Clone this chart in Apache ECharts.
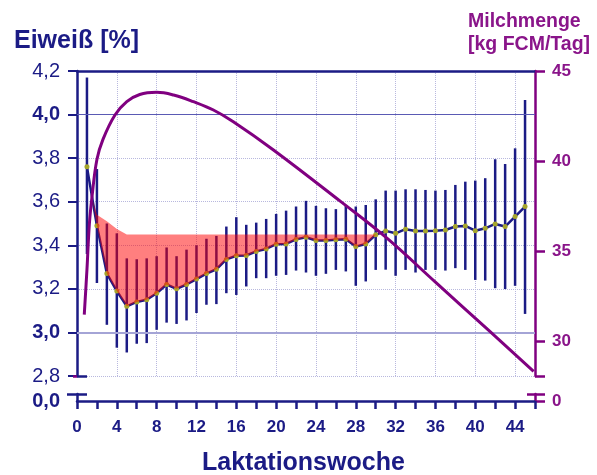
<!DOCTYPE html>
<html>
<head>
<meta charset="utf-8">
<script src="https://cdn.jsdelivr.net/npm/echarts/dist/echarts.min.js"></script>
<style>html,body{margin:0;padding:0;background:#fff;}#c{width:597px;height:475px;}</style>
</head>
<body>
<div id="c"></div>
<script>
// ---- data ----
const weeks = [1,2,3,4,5,6,7,8,9,10,11,12,13,14,15,16,17,18,19,20,21,22,23,24,25,26,27,28,29,30,31,32,33,34,35,36,37,38,39,40,41,42,43,44,45];
const protein = [3.76,3.49,3.27,3.19,3.12,3.14,3.15,3.18,3.22,3.20,3.22,3.245,3.27,3.29,3.335,3.352,3.353,3.372,3.383,3.405,3.406,3.427,3.437,3.422,3.422,3.425,3.428,3.394,3.406,3.448,3.466,3.455,3.474,3.466,3.466,3.467,3.47,3.486,3.489,3.467,3.478,3.498,3.486,3.532,3.578];
const proteinHigh = [4.17,3.75,3.50,3.455,3.34,3.336,3.34,3.35,3.39,3.35,3.38,3.40,3.43,3.443,3.486,3.529,3.494,3.504,3.521,3.544,3.559,3.578,3.604,3.581,3.57,3.566,3.585,3.578,3.585,3.611,3.651,3.651,3.657,3.657,3.654,3.651,3.654,3.677,3.692,3.697,3.708,3.795,3.773,3.845,4.067];
const proteinLow = [3.36,3.227,3.035,2.93,2.908,2.948,2.951,3.012,3.045,3.039,3.055,3.089,3.127,3.13,3.18,3.172,3.211,3.249,3.249,3.26,3.264,3.284,3.275,3.26,3.269,3.287,3.28,3.214,3.234,3.287,3.288,3.26,3.287,3.275,3.287,3.287,3.284,3.295,3.287,3.241,3.238,3.203,3.199,3.214,3.085];
const refProtein = [3.70,3.54,3.51,3.475,3.45,3.45,3.45,3.45,3.45,3.45,3.45,3.45,3.45,3.45,3.45,3.45,3.45,3.45,3.45,3.45,3.45,3.45,3.45,3.45,3.45,3.45,3.45,3.45,3.45,3.45,3.45,3.45,3.45,3.45,3.45,3.45,3.45,3.45,3.45,3.45,3.45,3.45,3.45,3.45,3.45];
const milkWeeks = [0.73,1.0,1.24,1.5,2.0,2.6,3.8,5.0,6.3,8.0,9.7,11.7,13.7,15.7,19.7,26.5,31.1,36,41.3,45.86];
const milkYield = [31.5,34.0,36.5,38.0,40.1,41.2,42.55,43.3,43.7,43.82,43.67,43.3,42.84,42.19,40.64,37.76,35.75,33.3,30.65,28.36];
const xTickValues = [0,2,4,6,8,10,12,14,16,18,20,22,24,26,28,30,32,34,36,38,40,42,44,46];
const xLabelValues = [0,4,8,12,16,20,24,28,32,36,40,44];
const rightLabelValues = [30,35,40,45];

const NAVY = '#1b1b85';
const PURPLE_T = '#8a158a';
const PURPLE = '#800080';
const GRIDC = '#b8b8de';
const FONT = 'Liberation Sans, Arial, sans-serif';

function redRuns(){
  const runs=[]; let cur=null;
  for(let i=0;i<weeks.length;i++){
    const d=refProtein[i]-protein[i];
    if(i>0){
      const dp=refProtein[i-1]-protein[i-1];
      if((dp>0)!==(d>0)){
        const t=dp/(dp-d);
        const w=weeks[i-1]+t*(weeks[i]-weeks[i-1]);
        const v=protein[i-1]+t*(protein[i]-protein[i-1]);
        if(cur){cur.lo.push([w,v]);cur.hi.push([w,v]);runs.push(cur);cur=null;}
        else{cur={lo:[[w,v]],hi:[[w,v]]};}
      }
    }
    if(d>0){ if(!cur) cur={lo:[],hi:[]}; cur.lo.push([weeks[i],protein[i]]); cur.hi.push([weeks[i],refProtein[i]]); }
  }
  if(cur) runs.push(cur);
  return runs;
}

const chart = echarts.init(document.getElementById('c'), null, {renderer:'canvas'});
const leftFmt = v => { const s=(Math.round(v*10)/10).toFixed(1).replace('.',','); return (Math.abs(v-4)<1e-6||Math.abs(v-3)<1e-6)?'{b|'+s+'}':s; };

chart.setOption({
  animation:false,
  textStyle:{fontFamily:FONT},
  title:[
    {text:'Eiweiß [%]', left:14, top:29, padding:0, textStyle:{fontFamily:FONT,fontSize:25,fontWeight:'bold',color:NAVY}},
    {text:'Milchmenge\n[kg FCM/Tag]', left:468, top:10, padding:0, textStyle:{fontFamily:FONT,fontSize:19.5,fontWeight:'bold',color:PURPLE_T,lineHeight:23}},
    {text:'Laktationswoche', left:202, top:451, padding:0, textStyle:{fontFamily:FONT,fontSize:25,fontWeight:'bold',color:NAVY}}
  ],
  grid:[
    {left:77, right:62, top:71, height:305},
    {left:77, right:62, top:394, height:7}
  ],
  xAxis:[
    {gridIndex:0, type:'value', min:0, max:46, interval:4, axisLine:{show:false}, axisTick:{show:false}, axisLabel:{show:false},
     splitLine:{show:true, lineStyle:{color:GRIDC, type:'dotted', width:1}}},
    {gridIndex:1, type:'value', min:0, max:46, position:'bottom',
     axisLine:{show:true, onZero:false, lineStyle:{color:NAVY, width:2.5}},
     axisTick:{show:true, customValues:xTickValues, length:8, lineStyle:{color:NAVY, width:2.5}},
     axisLabel:{show:true, customValues:xLabelValues, margin:18, fontFamily:FONT, fontSize:17, fontWeight:'bold', color:NAVY},
     splitLine:{show:false}},
    {gridIndex:0, type:'value', min:0, max:46, position:'top',
     axisLine:{show:true, onZero:false, lineStyle:{color:NAVY, width:2.5}}, axisTick:{show:false}, axisLabel:{show:false}, splitLine:{show:false}}
  ],
  yAxis:[
    {gridIndex:0, type:'value', position:'left', min:2.8, max:4.2, interval:0.2,
     axisLine:{show:true, onZero:false, lineStyle:{color:NAVY, width:2.5}},
     axisTick:{show:true, length:9, lineStyle:{color:NAVY, width:2}},
     axisLabel:{show:true, margin:17, fontFamily:FONT, fontSize:20, color:NAVY, formatter:leftFmt, rich:{b:{fontFamily:FONT,fontSize:20,fontWeight:'bold',color:NAVY}}},
     splitLine:{show:true, lineStyle:{color:GRIDC, type:'dotted', width:1}}},
    {gridIndex:0, type:'value', position:'left', min:2.8, max:4.2,
     axisLine:{show:false}, axisTick:{show:true, inside:true, customValues:[2.8], length:10, lineStyle:{color:NAVY, width:2.5}},
     axisLabel:{show:false}, splitLine:{show:false}},
    {gridIndex:0, type:'value', position:'right', min:28.1, max:45,
     axisLine:{show:true, onZero:false, lineStyle:{color:PURPLE, width:2.5}},
     axisTick:{show:true, customValues:[28.1,30,35,40,45], length:10, lineStyle:{color:PURPLE, width:2.5}},
     axisLabel:{show:true, customValues:rightLabelValues, margin:17, fontFamily:FONT, fontSize:17, fontWeight:'bold', color:PURPLE_T},
     splitLine:{show:false}},
    {gridIndex:0, type:'value', position:'right', min:28.1, max:45,
     axisLine:{show:false}, axisTick:{show:true, inside:true, customValues:[28.1], length:4, lineStyle:{color:PURPLE, width:2.5}},
     axisLabel:{show:false}, splitLine:{show:false}},
    {gridIndex:1, type:'value', position:'left', min:0, max:1,
     axisLine:{show:true, onZero:false, lineStyle:{color:NAVY, width:2.5}},
     axisTick:{show:true, customValues:[1], length:10, lineStyle:{color:NAVY, width:2.5}},
     axisLabel:{show:true, customValues:[0], margin:17, fontFamily:FONT, fontSize:20, fontWeight:'bold', color:NAVY, formatter:()=> '0,0'},
     splitLine:{show:false}},
    {gridIndex:1, type:'value', position:'left', min:0, max:1,
     axisLine:{show:false}, axisTick:{show:true, inside:true, customValues:[1], length:10, lineStyle:{color:NAVY, width:2.5}},
     axisLabel:{show:false}, splitLine:{show:false}},
    {gridIndex:1, type:'value', position:'right', min:0, max:1,
     axisLine:{show:true, onZero:false, lineStyle:{color:PURPLE, width:2.5}},
     axisTick:{show:true, customValues:[0,1], length:10, lineStyle:{color:PURPLE, width:2.5}},
     axisLabel:{show:true, customValues:[0], margin:17, fontFamily:FONT, fontSize:17, fontWeight:'bold', color:PURPLE_T},
     splitLine:{show:false}},
    {gridIndex:1, type:'value', position:'right', min:0, max:1,
     axisLine:{show:false}, axisTick:{show:true, inside:true, customValues:[1], length:8, lineStyle:{color:PURPLE, width:2.5}},
     axisLabel:{show:false}, splitLine:{show:false}}
  ],
  series:[
    {type:'line', xAxisIndex:0, yAxisIndex:0, data:[], silent:true, z:1,
     markLine:{silent:true, symbol:'none', label:{show:false},
       data:[{yAxis:4.0, lineStyle:{color:'#5a5ab4', width:1.2, type:'solid'}},
             {yAxis:3.0, lineStyle:{color:'#a4a4d6', width:1.8, type:'solid'}}]}},
    {type:'custom', xAxisIndex:0, yAxisIndex:0, z:3, silent:true,
     data: weeks.map((w,i)=>[w, proteinLow[i], proteinHigh[i]]),
     renderItem:(params, api)=>{
       const w=api.value(0), lo=api.coord([w, api.value(1)]), hi=api.coord([w, api.value(2)]);
       return {type:'line', shape:{x1:lo[0], y1:lo[1], x2:hi[0], y2:hi[1]}, style:{stroke:NAVY, lineWidth:2.5}};
     }},
    {type:'line', xAxisIndex:0, yAxisIndex:0, z:4, silent:true,
     data: weeks.map((w,i)=>[w, protein[i]]),
     lineStyle:{color:NAVY, width:2.5}, symbol:'circle', symbolSize:5, showAllSymbol:true,
     itemStyle:{color:'#a6a62c', borderWidth:0}},
    {type:'custom', xAxisIndex:0, yAxisIndex:0, z:5, silent:true,
     data:[[weeks[0], protein[0]]],
     renderItem:(params, api)=>{
       const runs=redRuns();
       return {type:'group', children: runs.map(r=>({type:'polygon',
         shape:{points: r.lo.concat(r.hi.slice().reverse()).map(p=>api.coord(p))},
         style:{fill:'rgba(255,0,0,0.5)'}}))};
     }},
    {type:'line', xAxisIndex:0, yAxisIndex:2, z:6, silent:true,
     data: milkWeeks.map((w,i)=>[w, milkYield[i]]),
     smooth:0.4, symbol:'none',
     lineStyle:{color:PURPLE, width:3}}
  ]
});
</script>
</body>
</html>
